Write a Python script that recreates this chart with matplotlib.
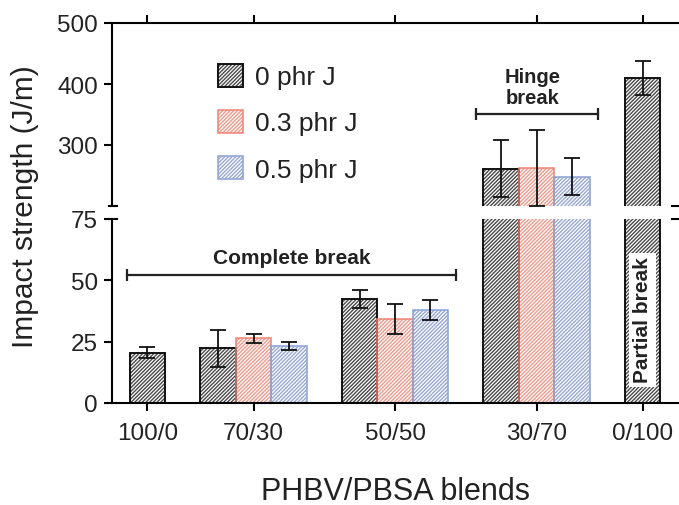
import numpy as np
import matplotlib
matplotlib.use("Agg")
import matplotlib.pyplot as plt
from matplotlib.patches import Patch
from matplotlib.legend_handler import HandlerTuple

plt.rcParams['font.family'] = ['Liberation Sans', 'DejaVu Sans']
plt.rcParams['hatch.linewidth'] = 1.0

# ---- data ----
categories = ['100/0', '70/30', '50/50', '30/70', '0/100']
series_labels = ['0 phr J', '0.3 phr J', '0.5 phr J']
j0 = [20.5, 22.3, 42.5, 261, 410]
j0_err = [2.2, 7.5, 3.6, 47, 28]
j03 = [np.nan, 26.3, 34.3, 262, np.nan]
j03_err = [np.nan, 2.0, 6.0, 62, np.nan]
j05 = [np.nan, 23.4, 37.8, 248, np.nan]
j05_err = [np.nan, 1.6, 4.1, 30, np.nan]
bottom_ticks = [0, 25, 50, 75]
top_ticks = [300, 400, 500]

# ---- layout / style ----
group_pos = np.array([0, 3, 7, 11, 14], dtype=float)
edge_colors = ['#111111', '#f08274', '#8aa2d4']
hatch_colors = ['#4a4a4a', '#ee9a8c', '#98a8d4']
hatch = '/////////'
W, H = 679, 506
fig = plt.figure(figsize=(W / 100, H / 100), dpi=100)
L, R = 112 / W, 678 / W
ax_b = fig.add_axes([L, 1 - 404 / H, R - L, 184 / H])
ax_t = fig.add_axes([L, 1 - 207 / H, R - L, 183 / H])

series = [(j0, j0_err), (j03, j03_err), (j05, j05_err)]

def bar_x(i, k):
    n = sum(0 if np.isnan(s[0][i]) else 1 for s in series)
    if n == 1:
        return group_pos[i]
    return group_pos[i] + (k - 1)

for ax in (ax_b, ax_t):
    for k, (vals, errs) in enumerate(series):
        xs, ys, es = [], [], []
        for i in range(len(categories)):
            if np.isnan(vals[i]):
                continue
            xs.append(bar_x(i, k)); ys.append(vals[i]); es.append(errs[i])
        # hatch layer
        ax.bar(xs, ys, width=1.0, facecolor='white', edgecolor=hatch_colors[k],
               hatch=hatch, linewidth=0, zorder=2)
        # outline layer
        ax.bar(xs, ys, width=1.0, facecolor='none', edgecolor=edge_colors[k],
               linewidth=1.4 if k == 0 else 1.1, zorder=2.1)
        ax.errorbar(xs, ys, yerr=es, fmt='none', ecolor='#111111',
                    elinewidth=1.3, capsize=5.5, capthick=1.3, zorder=3)
    ax.set_xlim(-1, 15)

ax_b.set_ylim(0, 75)
ax_t.set_ylim(200, 500)
ax_b.set_yticks(bottom_ticks)
ax_t.set_yticks(top_ticks)
ax_b.set_xticks(group_pos)
ax_b.set_xticklabels(categories)
ax_t.set_xticks(group_pos)
ax_t.xaxis.tick_top()
ax_t.tick_params(axis='x', labeltop=False, labelbottom=False)

for ax in (ax_b, ax_t):
    ax.spines['right'].set_visible(False)
    for s in ax.spines.values():
        s.set_linewidth(1.5)
    ax.tick_params(direction='out', length=6, width=1.5, labelsize=17.5, pad=4,
                   labelcolor='#222222')
ax_b.tick_params(axis='x', pad=8)
ax_b.spines['top'].set_visible(False)
ax_t.spines['bottom'].set_visible(False)

# break marks
for ax, yy in ((ax_t, 0.0), (ax_b, 1.0)):
    ax.plot([-3 / 566, 5 / 566], [yy, yy], transform=ax.transAxes, color='k',
            lw=1.5, clip_on=False, zorder=5)
    ax.plot([1 - 6 / 566, 1.0], [yy, yy], transform=ax.transAxes, color='k',
            lw=1.5, clip_on=False, zorder=5)

# annotations
ax_b.plot([group_pos[0] - 0.58, group_pos[2] + 1.72], [52, 52], color='#222222',
          lw=1.6, marker='|', ms=9, mew=1.6, zorder=4)
ax_b.text((group_pos[0] - 0.58 + group_pos[2] + 1.72) / 2, 55.5, 'Complete break',
          ha='center', va='bottom', fontsize=15, fontweight='bold', color='#222222')
ax_t.plot([group_pos[3] - 1.72, group_pos[3] + 1.73], [351, 351], color='#222222',
          lw=1.6, marker='|', ms=9, mew=1.6, zorder=4)
ax_t.text(group_pos[3] - 0.1, 362, 'Hinge\nbreak', ha='center', va='bottom',
          fontsize=14.5, fontweight='bold', color='#222222', linespacing=1.15)
ax_b.text(group_pos[4], 34, 'Partial break', rotation=90, ha='center', va='center',
          fontsize=15, fontweight='bold', color='#222222', zorder=6,
          bbox=dict(facecolor='white', edgecolor='none', pad=3))

# legend
handles = [(Patch(facecolor='white', edgecolor=hatch_colors[k], hatch=hatch, linewidth=0),
            Patch(facecolor='none', edgecolor=edge_colors[k],
                  linewidth=1.4 if k == 0 else 1.1))
           for k in range(3)]
fig.legend(handles=handles, labels=series_labels, loc='upper left',
           handler_map={tuple: HandlerTuple(ndivide=1, pad=0)},
           bbox_to_anchor=(218 / W, 1 - 65 / H),
           frameon=False, fontsize=19, handlelength=0.95, handleheight=0.95,
           handletextpad=0.45, labelspacing=0.78, borderpad=0, borderaxespad=0,
           labelcolor='#222222')

fig.text(25 / W, 1 - 207 / H, 'Impact strength (J/m)', rotation=90, ha='center',
         va='center', fontsize=21.5, color='#222222')
fig.text((L + R) / 2, 1 - 492 / H, 'PHBV/PBSA blends', ha='center', va='center',
         fontsize=22, color='#222222')

fig.savefig('out.png', dpi=100)
